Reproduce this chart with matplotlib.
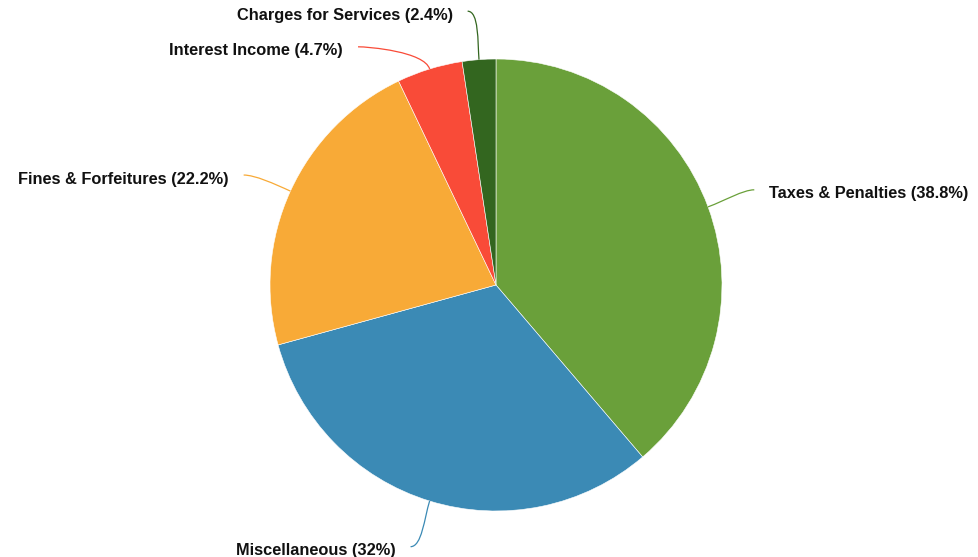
import numpy as np
import matplotlib
matplotlib.use("Agg")
import matplotlib.pyplot as plt
from matplotlib.path import Path
from matplotlib.patches import PathPatch

categories = ["Taxes & Penalties", "Miscellaneous", "Fines & Forfeitures", "Interest Income", "Charges for Services"]
values = [38.8, 32, 22.2, 4.7, 2.4]
label_pct = ["38.8%", "32%", "22.2%", "4.7%", "2.4%"]
colors = ["#6aa03a", "#3b8ab5", "#f8aa37", "#f94b38", "#33661f"]
# angular nudges (deg) for labels to avoid overlap
nudges = [0, -1, 1, 13, 1.6]

plt.rcParams['font.family'] = ['Liberation Sans', 'DejaVu Sans']

W, H = 979, 557
fig = plt.figure(figsize=(W/100, H/100), dpi=100)
ax = fig.add_axes([0, 0, 1, 1])
R = 226.0
cx, cy = 496.0, 285.0
ax.set_aspect('equal')
ax.axis('off')

wedges, _ = ax.pie(values, colors=colors, startangle=90, counterclock=False,
                   radius=1, center=(0, 0),
                   wedgeprops=dict(edgecolor='white', linewidth=0.4))
ax.set_xlim(-cx/R, (W-cx)/R)
ax.set_ylim(-(H-cy)/R, cy/R)

for w, cat, pct, col, nd in zip(wedges, categories, label_pct, colors, nudges):
    mid = np.deg2rad((w.theta1 + w.theta2) / 2)
    end = mid + np.deg2rad(nd)
    p0 = (np.cos(mid), np.sin(mid))
    p2 = (1.218*np.cos(end), 1.218*np.sin(end))
    right = p2[0] > 0
    c1 = (1.08*np.cos(mid), 1.08*np.sin(mid))
    c2 = (p2[0] + (-0.05 if right else 0.05), p2[1])
    path = Path([p0, c1, c2, p2], [Path.MOVETO, Path.CURVE4, Path.CURVE4, Path.CURVE4])
    ax.add_patch(PathPatch(path, fc='none', ec=col, lw=0.9))
    dx = 15/R if right else -15/R
    ax.text(p2[0] + dx, p2[1] - 4/R, f"{cat} ({pct})",
            ha='left' if right else 'right', va='center',
            fontsize=11.75, fontweight='bold', color='#111111')

fig.savefig("out.png", dpi=100)
